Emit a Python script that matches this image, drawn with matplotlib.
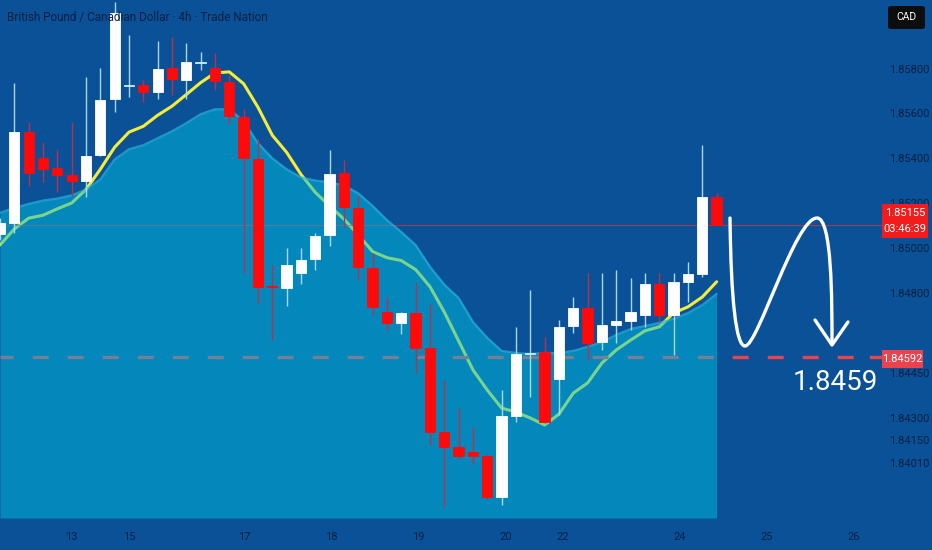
import numpy as np
import matplotlib
matplotlib.use('Agg')
import matplotlib.pyplot as plt
from matplotlib.path import Path
from matplotlib.patches import PathPatch, Rectangle, FancyBboxPatch
from matplotlib.lines import Line2D

# GBP/CAD 4h candles
opens = [1.85094, 1.85159, 1.85515, 1.85399, 1.85354, 1.85323, 1.85296, 1.85412, 1.85662, 1.85724,
         1.85729, 1.85697, 1.85804, 1.85751, 1.85827, 1.85804, 1.85742, 1.85581, 1.85394, 1.84832,
         1.84823, 1.84890, 1.84953, 1.85088, 1.85332, 1.85190, 1.84912, 1.84738, 1.84703, 1.84735,
         1.84621, 1.84205, 1.84107, 1.84077, 1.84053, 1.83803, 1.84307, 1.84602, 1.84608, 1.84430,
         1.84693, 1.84751, 1.84641, 1.84696, 1.84709, 1.84729, 1.84841, 1.84729, 1.84850, 1.84886,
         1.85225]
highs = [1.85169, 1.85738, 1.85559, 1.85470, 1.85439, 1.85559, 1.85764, 1.85804, 1.86099, 1.85952,
         1.85751, 1.85925, 1.85943, 1.85916, 1.85876, 1.85871, 1.85773, 1.85617, 1.85483, 1.84926,
         1.85002, 1.85002, 1.85101, 1.85434, 1.85390, 1.85229, 1.84979, 1.84787, 1.84738, 1.84846,
         1.84768, 1.84427, 1.84333, 1.84239, 1.84065, 1.84393, 1.84690, 1.84814, 1.84657, 1.84712,
         1.84787, 1.84890, 1.84890, 1.84904, 1.84868, 1.84890, 1.84890, 1.84890, 1.84939, 1.85457,
         1.85243]
lows = [1.85054, 1.85101, 1.85274, 1.85292, 1.85247, 1.85229, 1.85225, 1.85408, 1.85604, 1.85671,
        1.85648, 1.85662, 1.85684, 1.85662, 1.85796, 1.85706, 1.85550, 1.84890, 1.84768, 1.84647,
        1.84758, 1.84841, 1.84904, 1.85013, 1.85142, 1.84859, 1.84729, 1.84680, 1.84667, 1.84450,
        1.84120, 1.83748, 1.84040, 1.84004, 1.83791, 1.83754, 1.84273, 1.84370, 1.84266, 1.84310,
        1.84670, 1.84565, 1.84615, 1.84638, 1.84680, 1.84690, 1.84706, 1.84599, 1.84771, 1.84872,
        1.85155]
closes = [1.85159, 1.85515, 1.85332, 1.85350, 1.85323, 1.85296, 1.85408, 1.85657, 1.86050, 1.85729,
          1.85697, 1.85800, 1.85755, 1.85831, 1.85831, 1.85746, 1.85586, 1.85399, 1.84828, 1.84828,
          1.84926, 1.84948, 1.85081, 1.85327, 1.85192, 1.84917, 1.84755, 1.84703, 1.84735, 1.84621,
          1.84205, 1.84107, 1.84053, 1.84053, 1.83803, 1.84307, 1.84602, 1.84605, 1.84273, 1.84690,
          1.84751, 1.84638, 1.84696, 1.84709, 1.84738, 1.84841, 1.84729, 1.84850, 1.84886, 1.85225,
          1.85155]

# fast average (yellow line)
ema = [1.85020, 1.85128, 1.85169, 1.85175, 1.85188, 1.85200, 1.85260, 1.85350, 1.85448, 1.85515,
       1.85541, 1.85590, 1.85631, 1.85684, 1.85738, 1.85782, 1.85787, 1.85733, 1.85626, 1.85501,
       1.85425, 1.85327, 1.85247, 1.85194, 1.85167, 1.85088, 1.84984, 1.84957, 1.84944, 1.84904,
       1.84828, 1.84738, 1.84644, 1.84477, 1.84393, 1.84333, 1.84320, 1.84300, 1.84252, 1.84313,
       1.84383, 1.84417, 1.84539, 1.84615, 1.84647, 1.84677, 1.84690, 1.84735, 1.84755, 1.84787,
       1.84850]
# slow average (top of the shaded area)
cloud = [1.85180, 1.85190, 1.85198, 1.85211, 1.85220, 1.85234, 1.85260, 1.85305, 1.85394, 1.85439,
         1.85457, 1.85488, 1.85519, 1.85555, 1.85595, 1.85617, 1.85617, 1.85564, 1.85466, 1.85399,
         1.85350, 1.85314, 1.85300, 1.85292, 1.85278, 1.85243, 1.85194, 1.85165, 1.85108, 1.85020,
         1.84917, 1.84837, 1.84784, 1.84706, 1.84654, 1.84612, 1.84605, 1.84602, 1.84605, 1.84605,
         1.84612, 1.84625, 1.84641, 1.84664, 1.84683, 1.84693, 1.84703, 1.84716, 1.84735, 1.84761,
         1.84797]

day_pos = [4.97, 9.02, 17.05, 23.12, 29.19, 35.26, 39.24, 47.4, 53.47, 59.55]
day_labels = ['13', '15', '17', '18', '19', '20', '22', '24', '25', '26']

price_ticks = [1.8401, 1.8415, 1.8430, 1.8445, 1.8480, 1.8500, 1.8520, 1.8540, 1.8560, 1.8580]
target_price = 1.84592
last_price = 1.85155
countdown = '03:46:39'
title = 'British Pound / Canadian Dollar · 4h · Trade Nation'

# the price axis of the screenshot is not evenly spaced: map each label to its height
scale_price = [1.830, 1.8401, 1.8415, 1.8430, 1.8445, 1.84592, 1.8480, 1.8500, 1.85155, 1.8520,
               1.8540, 1.8560, 1.8580, 1.870]
scale_pos = [-629, -463, -440, -418, -373, -357, -293, -248, -225, -203, -158, -113, -69, 200]


def fwd(p):
    return np.interp(p, scale_price, scale_pos)


def inv(s):
    return np.interp(s, scale_pos, scale_price)


W, H = 932, 550
bg = '#0a5197'
label_col = '#0b2142'

plt.rcParams['font.family'] = ['Liberation Sans Narrow', 'Roboto', 'DejaVu Sans']
plt.rcParams['lines.scale_dashes'] = False

fig = plt.figure(figsize=(W / 100, H / 100), dpi=100, facecolor=bg)
ax = fig.add_axes([0, 32 / H, 870 / W, 518 / H])
ax.set_facecolor(bg)
ax.set_yscale('function', functions=(fwd, inv))

idx = np.arange(len(opens))
o = np.array(opens)
c = np.array(closes)
up = c >= o

# lines that sit under the shaded area
ax.plot(idx, ema, color='#f5ec3a', lw=2.2, zorder=1, solid_capstyle='round')
ax.axhline(target_price, color='#e8434f', lw=2.4, ls=(2, (11.5, 13.7)), zorder=1)
ax.axhline(last_price, color='#ff3030', lw=0.8, alpha=0.6, zorder=1)

bottom = inv(-518)
ax.fill_between(idx, cloud, bottom, color='#00bfdf', alpha=0.5, lw=0, zorder=2)
ax.plot(idx, cloud, color='#2ab0e0', lw=1.6, alpha=0.7, zorder=2.1)

# candles
body_col = []
wick_col = []
for k in range(len(o)):
    if up[k]:
        small = abs(c[k] - o[k]) < 0.00006
        body_col.append('#c4f0ff' if small else '#ffffff')
        wick_col.append('#a6d8f2')
    else:
        body_col.append('#ff0a0a')
        wick_col.append('#b8304a')
ax.vlines(idx, lows, highs, colors=wick_col, lw=1.0, zorder=3)
ax.bar(idx, np.abs(c - o), bottom=np.minimum(o, c), width=0.72, color=body_col,
       edgecolor=body_col, linewidth=0.6, zorder=4)

ax.set_xlim(0.0, 60.7)
ax.set_ylim(inv(-518), inv(0))
for s in ax.spines.values():
    s.set_visible(False)

ax.set_xticks(day_pos)
ax.set_xticklabels(day_labels)
ax.yaxis.tick_right()
ax.set_yticks(price_ticks)
ax.set_yticklabels(['%.5f' % p for p in price_ticks])
ax.minorticks_off()
ax.tick_params(axis='x', length=0, pad=10, labelsize=8, labelcolor=label_col)
ax.tick_params(axis='y', length=0, pad=14, labelsize=8, labelcolor=label_col)


def fx(x):
    return x / W


def fy(y):
    return 1 - y / H


fig.text(fx(7), fy(17), title, fontsize=8.5, color=label_col, ha='left', va='center')

# CAD box
fig.add_artist(FancyBboxPatch((fx(888), fy(29)), 37 / W, 23 / H,
                              boxstyle='round,pad=0,rounding_size=0.004',
                              transform=fig.transFigure, facecolor='#0d0d0d', edgecolor='none'))
fig.text(fx(906), fy(17.5), 'CAD', fontsize=7.5, color='white', ha='center', va='center')

# current price tag
fig.add_artist(Line2D([fx(870), fx(882)], [fy(225), fy(225)], color='#ff3030', lw=0.8, alpha=0.6))
fig.add_artist(Rectangle((fx(882), fy(238)), 46 / W, 34 / H, transform=fig.transFigure,
                         facecolor='#f21c1c', edgecolor='none'))
fig.text(fx(905), fy(213), '%.5f' % last_price, fontsize=8, color='white', ha='center', va='center')
fig.text(fx(905), fy(229), countdown, fontsize=8, color='white', ha='center', va='center')

# target tag
fig.add_artist(Line2D([fx(871), fx(882)], [fy(357), fy(357)], color='#e8434f', lw=2.4))
fig.add_artist(Rectangle((fx(882), fy(368)), 41 / W, 18 / H, transform=fig.transFigure,
                         facecolor='#e8434f', edgecolor='none'))
fig.text(fx(902.5), fy(359), '%.5f' % target_price, fontsize=8, color='white', ha='center', va='center')

fig.text(fx(835), fy(383), '%.4f' % round(target_price, 4), fontsize=20, color='white',
         ha='center', va='center', family=['Roboto', 'DejaVu Sans'])

# hand drawn path with arrow
pts = [(730, 218), (731, 300), (736, 346), (745, 346),
       (758, 346), (795, 218), (817, 218),
       (832, 218), (832, 300), (832, 343)]
codes = [Path.MOVETO] + [Path.CURVE4] * 9
verts = [(fx(x), fy(y)) for x, y in pts]
fig.add_artist(PathPatch(Path(verts, codes), transform=fig.transFigure, fill=False,
                         edgecolor='white', lw=2.4, capstyle='round'))
head = [(815, 320), (832, 345), (848, 322)]
fig.add_artist(Line2D([fx(x) for x, y in head], [fy(y) for x, y in head], color='white',
                      lw=2.4, solid_capstyle='round', solid_joinstyle='round'))

fig.savefig('out.png', dpi=100, facecolor=bg)
